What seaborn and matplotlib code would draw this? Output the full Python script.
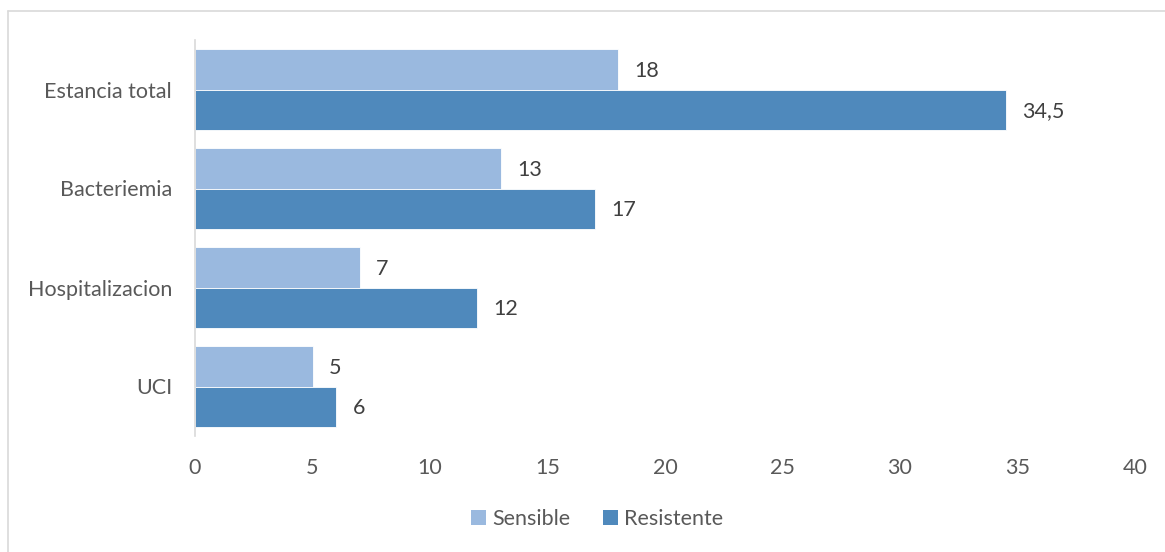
import matplotlib
matplotlib.use("Agg")
import matplotlib.pyplot as plt
import seaborn as sns
import pandas as pd
from matplotlib.lines import Line2D
from matplotlib.patches import Patch

categories = ["Estancia total", "Bacteriemia", "Hospitalizacion", "UCI"]
sensible = [18, 13, 7, 5]
resistente = [34.5, 17, 12, 6]
series_names = ["Sensible", "Resistente"]
x_ticks = [0, 5, 10, 15, 20, 25, 30, 35, 40]

colors = {"Sensible": "#9AB9DF", "Resistente": "#4F89BC"}
text_color = "#595959"
fs = 15.5

df = pd.DataFrame({
    "categoria": categories * 2,
    "valor": sensible + resistente,
    "serie": [series_names[0]] * len(categories) + [series_names[1]] * len(categories),
})

sns.set_style("white")
plt.rcParams["font.family"] = ["Lato", "DejaVu Sans"]

fig = plt.figure(figsize=(11.65, 5.52), dpi=100)
ax = fig.add_axes([195 / 1165, 1 - 436 / 552, 940 / 1165, 396 / 552])

sns.barplot(data=df, y="categoria", x="valor", hue="serie", order=categories,
            hue_order=series_names, palette=colors, saturation=1, width=0.82, orient="h",
            edgecolor="white", linewidth=0.6, ax=ax, legend=False)

def fmt(v):
    s = f"{v:g}"
    return s.replace(".", ",")

for cont in ax.containers:
    for bar in cont:
        w = bar.get_width()
        y = bar.get_y() + bar.get_height() / 2
        ax.annotate(fmt(w), (w, y), xytext=(12, -1), textcoords="offset points",
                    ha="left", va="center", fontsize=fs, color="#404040")

ax.set_xlim(0, 40)
ax.set_ylim(3.5, -0.5)
ax.set_xticks(x_ticks)
ax.set_xticklabels([str(t) for t in x_ticks])
ax.set_xlabel("")
ax.set_ylabel("")
ax.tick_params(axis="both", length=0, labelsize=fs, colors=text_color)
ax.tick_params(axis="x", pad=16)
ax.tick_params(axis="y", pad=16.5)
for side in ["top", "right", "bottom"]:
    ax.spines[side].set_visible(False)
ax.spines["left"].set_color("#D9D9D9")
ax.spines["left"].set_linewidth(1.2)

handles = [Patch(facecolor=colors[n], edgecolor="none") for n in series_names]
leg = fig.legend(handles, series_names, loc="center", bbox_to_anchor=(597 / 1165, 1 - 519 / 552),
                 ncol=2, frameon=False, fontsize=fs, handlelength=0.7, handleheight=0.7,
                 handletextpad=0.3, columnspacing=1.5)
for t in leg.get_texts():
    t.set_color(text_color)

# chart-area frame (top and left edges visible)
fig.add_artist(Line2D([8 / 1165, 8 / 1165], [0, 1 - 11 / 552], transform=fig.transFigure,
                      color="#D9D9D9", linewidth=1.2))
fig.add_artist(Line2D([8 / 1165, 1], [1 - 11 / 552, 1 - 11 / 552], transform=fig.transFigure,
                      color="#D9D9D9", linewidth=1.2))

fig.savefig("out.png", dpi=100)
